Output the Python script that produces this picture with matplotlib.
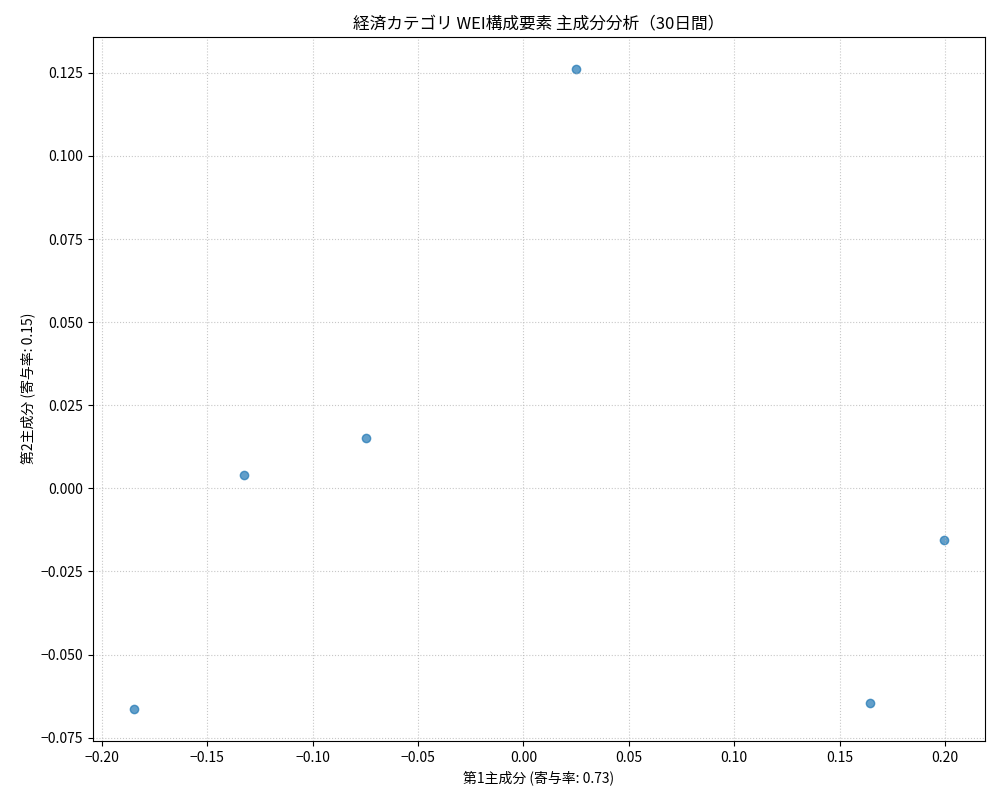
import matplotlib
matplotlib.use("Agg")
import matplotlib.pyplot as plt

plt.rcParams['font.family'] = ['Noto Sans CJK JP', 'DejaVu Sans']
plt.rcParams['axes.unicode_minus'] = True

# 主成分スコア
pc1 = [-0.185, -0.1325, -0.0747, 0.0248, 0.1645, 0.1998]
pc2 = [-0.0663, 0.0040, 0.0151, 0.1262, -0.0645, -0.0155]
var_ratio = [0.73, 0.15]

fig, ax = plt.subplots(figsize=(10, 8), dpi=100)
ax.scatter(pc1, pc2, alpha=0.7, color='#1f77b4')

ax.set_title('経済カテゴリ WEI構成要素 主成分分析（30日間）')
ax.set_xlabel(f'第1主成分 (寄与率: {var_ratio[0]:.2f})')
ax.set_ylabel(f'第2主成分 (寄与率: {var_ratio[1]:.2f})')
ax.grid(True, linestyle=':', alpha=0.7)

fig.subplots_adjust(left=0.093, right=0.985, top=0.954, bottom=0.074)
plt.savefig('out.png')
